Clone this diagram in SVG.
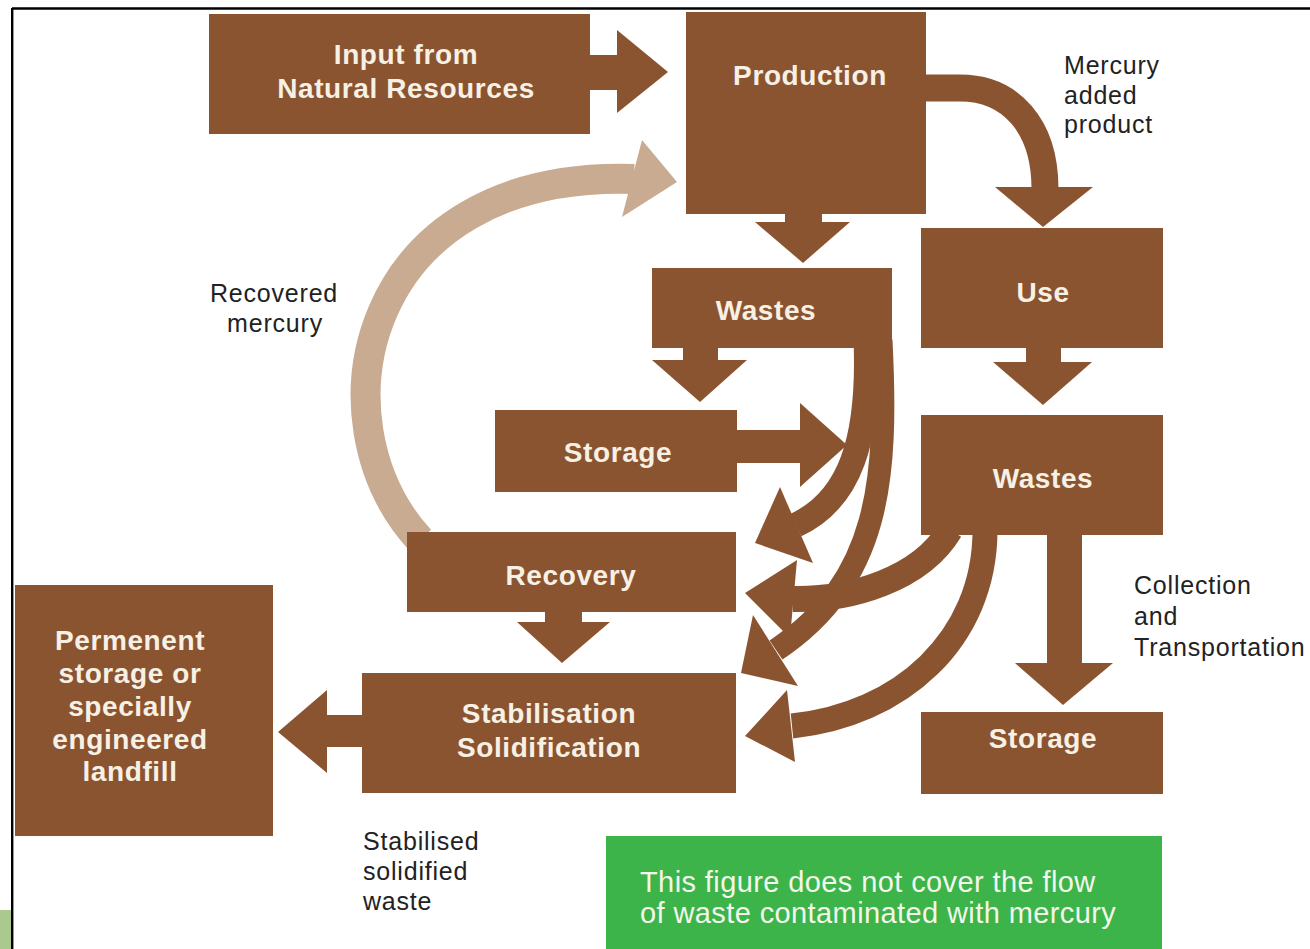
<svg xmlns="http://www.w3.org/2000/svg" width="1310" height="949" viewBox="0 0 1310 949">
<style>
.box{fill:#8b5430}
.lbl{font-family:"Liberation Sans",Arial,sans-serif;font-weight:bold;font-size:28px;fill:#f7f0e4;text-anchor:middle;letter-spacing:0.6px}
.note{font-family:"Liberation Sans",Arial,sans-serif;font-size:25px;fill:#222;letter-spacing:0.8px}
.flow{fill:none;stroke:#8b5430}
.head{fill:#8b5430}
.green{font-family:"Liberation Sans",Arial,sans-serif;font-size:29px;fill:#f2f7ea;letter-spacing:0.4px}
</style>
<rect x="0" y="0" width="1310" height="949" fill="#ffffff"/>
<rect x="0" y="910" width="11" height="39" fill="#a9c98f"/>
<line x1="12" y1="8.5" x2="1310" y2="8.5" stroke="#000" stroke-width="2.6"/>
<line x1="12.2" y1="8" x2="12.2" y2="949" stroke="#000" stroke-width="2.4"/>

<g id="connectors">
  <!-- recovered mercury (tan) -->
  <path d="M 420 540 C 310 420, 360 170, 634 179" fill="none" stroke="#c9ab92" stroke-width="30"/>
  <polygon points="642,140 622,217 677,182" fill="#c9ab92"/>
  <!-- input -> production -->
  <rect class="head" x="588" y="55" width="31" height="35"/>
  <polygon class="head" points="617,30 617,113 668,72"/>
  <!-- production -> use (mercury added product) -->
  <path class="flow" stroke-width="27" d="M 920 88 L 960 88 C 1010 88, 1045 125, 1045 189"/>
  <polygon class="head" points="995,187 1093,187 1043,227"/>
  <!-- production -> wastes -->
  <rect class="head" x="785" y="210" width="37" height="14"/>
  <polygon class="head" points="755,222 850,222 803,263"/>
  <!-- wastes -> storage -->
  <rect class="head" x="683" y="344" width="35" height="18"/>
  <polygon class="head" points="652,360 747,360 700,402"/>
  <!-- use -> wastes -->
  <rect class="head" x="1026" y="344" width="35" height="20"/>
  <polygon class="head" points="993,362 1092,362 1043,405"/>
  <!-- wastes (right) -> storage (right) -->
  <rect class="head" x="1047" y="530" width="35" height="135"/>
  <polygon class="head" points="1015,663 1113,663 1063,705"/>
  <!-- recovery -> stabilisation -->
  <rect class="head" x="545" y="608" width="37" height="16"/>
  <polygon class="head" points="517,622 610,622 562,663"/>
  <!-- stabilisation -> permanent -->
  <rect class="head" x="325" y="715" width="40" height="32"/>
  <polygon class="head" points="327,690 327,773 278,732"/>
  <!-- curved waste flows -->
  <path class="flow" stroke-width="25" d="M 985 530 C 985 640, 900 715, 792 726"/>
  <path class="flow" stroke-width="26" d="M 950 530 C 920 580, 850 600, 793 599"/>
  <path class="flow" stroke-width="23" d="M 881 340 C 888 480, 880 580, 776 650"/>
  <path class="flow" stroke-width="25" d="M 866 340 C 870 440, 850 500, 796 525"/>
  <!-- storage -> -->
  <rect class="head" x="733" y="430" width="69" height="33"/>
  <polygon class="head" points="800,403 800,487 847,445"/>
  <!-- heads of curved flows -->
  <polygon class="head" points="787,690 795,762 745,736"/>
  <polygon class="head" points="753,615 798,686 741,673"/>
  <polygon class="head" points="797,560 790,638 745,593"/>
  <polygon class="head" points="780,487 813,563 755,543"/>
</g>

<g id="input">
  <rect class="box" x="209" y="14" width="381" height="120"/>
  <text class="lbl" x="406" y="64">Input from</text>
  <text class="lbl" x="406" y="98">Natural Resources</text>
</g>
<g id="production">
  <rect class="box" x="686" y="12" width="240" height="202"/>
  <text class="lbl" x="810" y="85">Production</text>
</g>
<g id="wastes1">
  <rect class="box" x="652" y="268" width="240" height="80"/>
  <text class="lbl" x="766" y="320">Wastes</text>
</g>
<g id="use">
  <rect class="box" x="921" y="228" width="242" height="120"/>
  <text class="lbl" x="1043" y="302">Use</text>
</g>
<g id="storage1">
  <rect class="box" x="495" y="410" width="242" height="82"/>
  <text class="lbl" x="618" y="462">Storage</text>
</g>
<g id="wastes2">
  <rect class="box" x="921" y="415" width="242" height="120"/>
  <text class="lbl" x="1043" y="488">Wastes</text>
</g>
<g id="recovery">
  <rect class="box" x="407" y="532" width="329" height="80"/>
  <text class="lbl" x="571" y="585">Recovery</text>
</g>
<g id="stabilisation">
  <rect class="box" x="362" y="673" width="374" height="120"/>
  <text class="lbl" x="549" y="723">Stabilisation</text>
  <text class="lbl" x="549" y="757">Solidification</text>
</g>
<g id="storage2">
  <rect class="box" x="921" y="712" width="242" height="82"/>
  <text class="lbl" x="1043" y="748">Storage</text>
</g>
<g id="permanent">
  <rect class="box" x="15" y="585" width="258" height="251"/>
  <text class="lbl" x="130" y="650">Permenent</text>
  <text class="lbl" x="130" y="683">storage or</text>
  <text class="lbl" x="130" y="716">specially</text>
  <text class="lbl" x="130" y="749">engineered</text>
  <text class="lbl" x="130" y="781">landfill</text>
</g>
<g id="note">
  <rect x="606" y="836" width="556" height="113" fill="#3cb44a"/>
  <text class="green" x="640" y="892">This figure does not cover the flow</text>
  <text class="green" x="640" y="923">of waste contaminated with mercury</text>
</g>

<g id="labels">
  <text class="note" x="1064" y="74">Mercury</text>
  <text class="note" x="1064" y="104">added</text>
  <text class="note" x="1064" y="133">product</text>
  <text class="note" x="274" y="302" text-anchor="middle">Recovered</text>
  <text class="note" x="275" y="332" text-anchor="middle">mercury</text>
  <text class="note" x="1134" y="594">Collection</text>
  <text class="note" x="1134" y="625">and</text>
  <text class="note" x="1134" y="656">Transportation</text>
  <text class="note" x="363" y="850">Stabilised</text>
  <text class="note" x="363" y="880">solidified</text>
  <text class="note" x="363" y="910">waste</text>
</g>
</svg>
